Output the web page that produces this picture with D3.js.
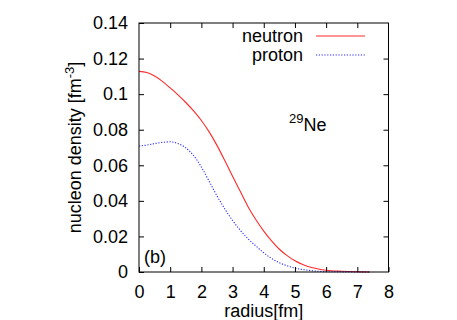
<!DOCTYPE html>
<html>
<head>
<meta charset="utf-8">
<script src="https://cdn.jsdelivr.net/npm/d3@7"></script>
<style>
  html, body { margin: 0; padding: 0; background: #fff; }
  svg { display: block; }
  text { font-family: "Liberation Sans", Arial, Helvetica, sans-serif; fill: #000; }
</style>
</head>
<body>
<svg id="chart" width="457" height="320"></svg>
<script>
// ---- data ----
const radius = [0, 0.25, 0.5, 0.75, 1.0, 1.25, 1.5, 1.75, 2.0, 2.25, 2.5, 2.75, 3.0, 3.25, 3.5, 3.75, 4.0, 4.25, 4.5, 4.75, 5.0, 5.25, 5.5, 5.75, 6.0, 6.5, 7.0, 7.4];
const neutron = [0.1128, 0.1122, 0.1102, 0.1072, 0.1035, 0.0996, 0.0953, 0.0906, 0.0852, 0.0788, 0.0712, 0.0627, 0.0538, 0.0452, 0.0366, 0.0294, 0.0230, 0.0175, 0.0128, 0.0092, 0.0063, 0.0042, 0.0027, 0.0017, 0.0010, 0.0004, 0.0001, 0.0000];
const proton  = [0.0708, 0.0714, 0.0722, 0.0729, 0.0732, 0.0722, 0.0698, 0.0655, 0.0590, 0.0510, 0.0428, 0.0355, 0.0290, 0.0234, 0.0186, 0.0146, 0.0108, 0.0076, 0.0052, 0.0035, 0.0022, 0.0014, 0.0008, 0.0004, 0.0002, 0.0001, 0.0000, 0.0000];
const xTicks = [0, 1, 2, 3, 4, 5, 6, 7, 8];
const yTicks = [0, 0.02, 0.04, 0.06, 0.08, 0.1, 0.12, 0.14];
const yTickLabels = ["0", "0.02", "0.04", "0.06", "0.08", "0.1", "0.12", "0.14"];
const seriesNames = ["neutron", "proton"];
const seriesColors = ["#ff2a2a", "#2a2aff"];

// ---- layout ----
const svg = d3.select("#chart");
const x = d3.scaleLinear().domain([0, 8]).range([139, 388.5]);
const y = d3.scaleLinear().domain([0, 0.14]).range([272, 23]);
const fs = 18;
const tickLen = 5;

// curves
const series = [neutron, proton];
const line = d3.line()
  .x((d, i) => x(radius[i]))
  .y(d => y(d))
  .curve(d3.curveMonotoneX);

series.forEach((vals, k) => {
  svg.append("path")
    .attr("d", line(vals))
    .attr("fill", "none")
    .attr("stroke", seriesColors[k])
    .attr("stroke-width", 1.1)
    .attr("stroke-dasharray", k === 1 ? "1.2,1.6" : null);
});

// frame
const [x0, x1] = x.range();
const [y0, y1] = y.range();
svg.append("rect")
  .attr("x", x0).attr("y", y1)
  .attr("width", x1 - x0).attr("height", y0 - y1)
  .attr("fill", "none").attr("stroke", "#000").attr("stroke-width", 1);

// x axis (bottom) with inward ticks, mirrored on top
const xAxisB = d3.axisBottom(x).tickValues(xTicks).tickSize(-tickLen).tickPadding(13).tickFormat(d3.format("d"));
const gxb = svg.append("g").attr("transform", `translate(0,${y0})`).call(xAxisB);
const xAxisT = d3.axisTop(x).tickValues(xTicks.slice(1, -1)).tickSize(-tickLen).tickFormat("");
const gxt = svg.append("g").attr("transform", `translate(0,${y1})`).call(xAxisT);

// y axis (left) with inward ticks, mirrored on right
const yAxisL = d3.axisLeft(y).tickValues(yTicks).tickSize(-tickLen).tickPadding(11).tickFormat((d, i) => yTickLabels[i]);
const gyl = svg.append("g").attr("transform", `translate(${x0},0)`).call(yAxisL);
const yAxisR = d3.axisRight(y).tickValues(yTicks.slice(1, -1)).tickSize(-tickLen).tickFormat("");
const gyr = svg.append("g").attr("transform", `translate(${x1},0)`).call(yAxisR);

[gxb, gxt, gyl, gyr].forEach(g => {
  g.select(".domain").remove();
  g.selectAll(".tick line").attr("stroke", "#000");
  g.selectAll("text").attr("font-size", fs).attr("font-family", '"Liberation Sans", Arial, sans-serif').attr("fill", "#000");
});
gxb.selectAll("text").attr("dy", "0.71em").attr("y", 13);

// axis titles
svg.append("text")
  .attr("x", (x0 + x1) / 2).attr("y", 316.5)
  .attr("text-anchor", "middle").attr("font-size", fs)
  .text("radius[fm]");

const yl = svg.append("text")
  .attr("transform", `translate(81,${(y0 + y1) / 2}) rotate(-90)`)
  .attr("text-anchor", "middle").attr("font-size", fs);
yl.append("tspan").text("nucleon density [fm");
yl.append("tspan").attr("dy", -7).attr("font-size", 13).text("-3");
yl.append("tspan").attr("dy", 7).text("]");

// legend
const legY = [36, 55];
seriesNames.forEach((name, k) => {
  svg.append("text")
    .attr("x", 303).attr("y", legY[k]).attr("dy", "0.35em")
    .attr("text-anchor", "end").attr("font-size", fs)
    .text(name);
  svg.append("line")
    .attr("x1", 316).attr("x2", 365)
    .attr("y1", legY[k]).attr("y2", legY[k])
    .attr("stroke", seriesColors[k]).attr("stroke-width", 1.1)
    .attr("stroke-dasharray", k === 1 ? "1.2,1.6" : null);
});

// nucleus label
const nl = svg.append("text").attr("x", 289).attr("y", 131).attr("font-size", fs);
nl.append("tspan").attr("dy", -8).attr("font-size", 13).text("29");
nl.append("tspan").attr("dy", 8).text("Ne");

// panel label
svg.append("text").attr("x", 144).attr("y", 263).attr("font-size", fs).text("(b)");
</script>
</body>
</html>
